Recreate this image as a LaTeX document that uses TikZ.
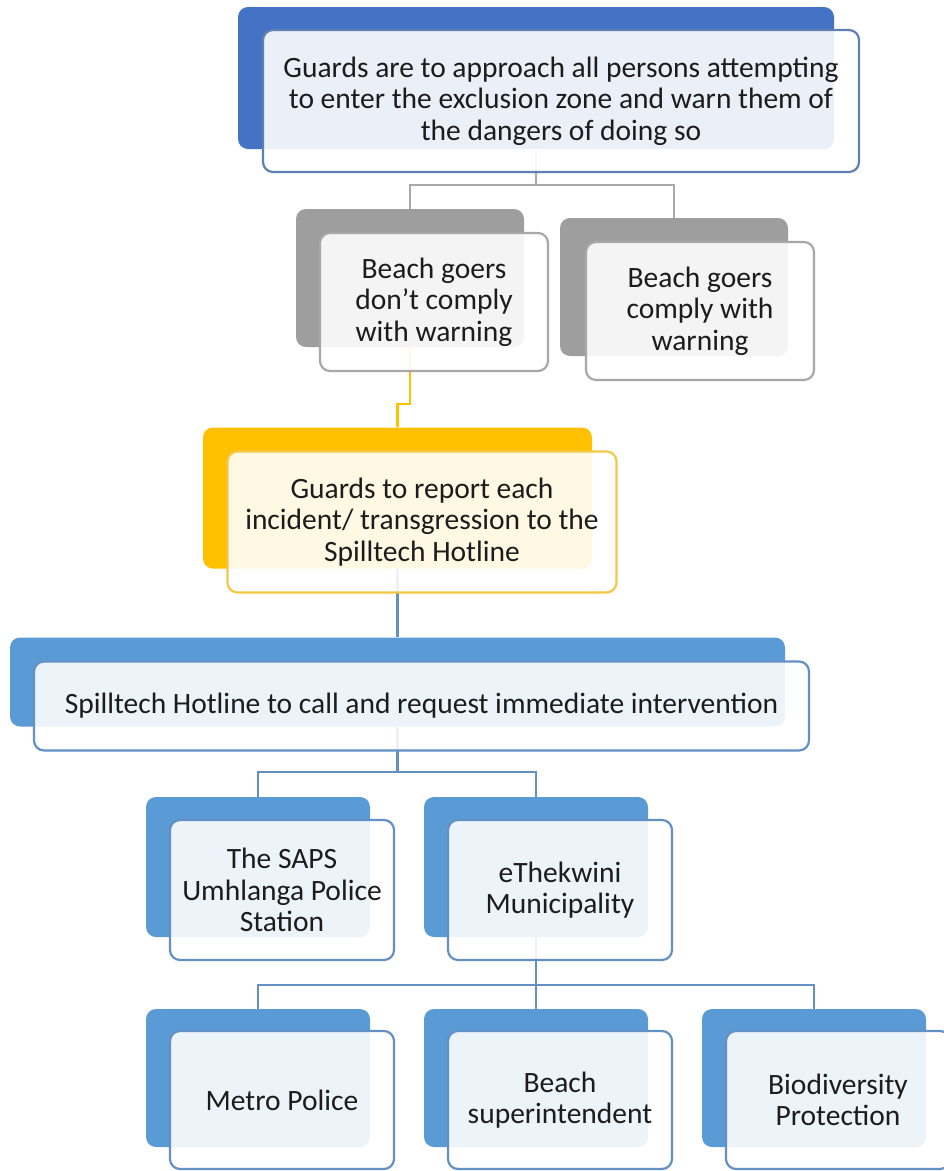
\documentclass[tikz,border=0pt]{standalone}
\usepackage{fontspec}
\setmainfont{Carlito}
\usepackage{tikz}

\definecolor{topblue}{RGB}{68,114,196}
\definecolor{topedge}{RGB}{96,128,176}
\definecolor{greyback}{RGB}{158,158,158}
\definecolor{greyedge}{RGB}{168,168,168}
\definecolor{goldback}{RGB}{255,192,0}
\definecolor{goldedge}{RGB}{242,200,70}
\definecolor{skyback}{RGB}{91,155,213}
\definecolor{skyedge}{RGB}{100,145,195}
\definecolor{inktext}{RGB}{28,28,28}

\tikzset{
  backbox/.style={rectangle, rounded corners=10pt, inner sep=0pt, fill=#1, draw=none},
  frontbox/.style={rectangle, rounded corners=10pt, inner sep=0pt, draw=#1, line width=2.2pt,
    fill=white, fill opacity=0.89, text opacity=1, draw opacity=1, align=center, text=inktext,
    font=\fontsize{29.5}{31.5}\selectfont},
  link/.style={draw=#1, line width=2.2pt},
}

\begin{document}
\begin{tikzpicture}[x=1pt,y=1pt,yscale=-1,xscale=1]
\useasboundingbox (0,0) rectangle (944,1171);
\clip (0,0) rectangle (944,1171);

%Shape: back boxes
\node [backbox=topblue, minimum width=596pt, minimum height=142pt] (warnback) at (536,78) {};
\node [backbox=greyback, minimum width=228pt, minimum height=138pt] (refuseback) at (410,278) {};
\node [backbox=greyback, minimum width=228pt, minimum height=138pt] (complyback) at (674,287) {};
\node [backbox=goldback, minimum width=389pt, minimum height=141pt] (reportback) at (397.5,498) {};
\node [backbox=skyback, minimum width=775pt, minimum height=89pt] (hotlineback) at (397.5,682) {};
\node [backbox=skyback, minimum width=224pt, minimum height=140pt] (sapsback) at (258,867) {};
\node [backbox=skyback, minimum width=224pt, minimum height=140pt] (ethekback) at (536,867) {};
\node [backbox=skyback, minimum width=224pt, minimum height=138pt] (metroback) at (258,1078) {};
\node [backbox=skyback, minimum width=224pt, minimum height=138pt] (superback) at (536,1078) {};
\node [backbox=skyback, minimum width=224pt, minimum height=138pt] (bioback) at (814,1078) {};

%Straight Lines
\draw [link=greyedge] (warnback.south) -- ++(0,36) -| (refuseback.north);
\draw [link=greyedge] (warnback.south) -- ++(0,36) -| (complyback.north);
\draw [link=goldback] (refuseback.south) -- ++(0,57) -| (reportback.north);
\draw [link=skyedge] (reportback.south) -- (hotlineback.north);
\draw [link=skyedge] (hotlineback.south) -- ++(0,45.5) -| (sapsback.north);
\draw [link=skyedge] (hotlineback.south) -- ++(0,45.5) -| (ethekback.north);
\draw [link=skyedge] (ethekback.south) -- ++(0,48) -| (metroback.north);
\draw [link=skyedge] (ethekback.south) -- ++(0,48) -| (superback.north);
\draw [link=skyedge] (ethekback.south) -- ++(0,48) -| (bioback.north);

% Text Node
\node [frontbox=topedge, minimum width=596pt, minimum height=142pt] (warn) at (561,101)
  {Guards are to approach all persons attempting\\to enter the exclusion zone and warn them of\\the dangers of doing so};
% Text Node
\node [frontbox=greyedge, minimum width=228pt, minimum height=138pt] (refuse) at (434,302)
  {Beach goers\\don’t comply\\with warning};
% Text Node
\node [frontbox=greyedge, minimum width=228pt, minimum height=138pt] (comply) at (700,311)
  {Beach goers\\comply with\\warning};
% Text Node
\node [frontbox=goldedge, minimum width=389pt, minimum height=141pt] (report) at (422,522)
  {Guards to report each\\incident/ transgression to the\\Spilltech Hotline};
% Text Node
\node [frontbox=skyedge, minimum width=775pt, minimum height=89pt] (hotline) at (421.5,706)
  {Spilltech Hotline to call and request immediate intervention};
% Text Node
\node [frontbox=skyedge, minimum width=224pt, minimum height=140pt] (saps) at (282,890)
  {The SAPS\\Umhlanga Police\\Station};
% Text Node
\node [frontbox=skyedge, minimum width=224pt, minimum height=140pt] (ethek) at (560,890)
  {eThekwini\\Municipality};
% Text Node
\node [frontbox=skyedge, minimum width=224pt, minimum height=138pt] (metro) at (282,1100)
  {Metro Police};
% Text Node
\node [frontbox=skyedge, minimum width=224pt, minimum height=138pt] (super) at (560,1100)
  {Beach\\superintendent};
% Text Node
\node [frontbox=skyedge, minimum width=224pt, minimum height=138pt] (bio) at (838,1100)
  {Biodiversity\\Protection};

\end{tikzpicture}
\end{document}
